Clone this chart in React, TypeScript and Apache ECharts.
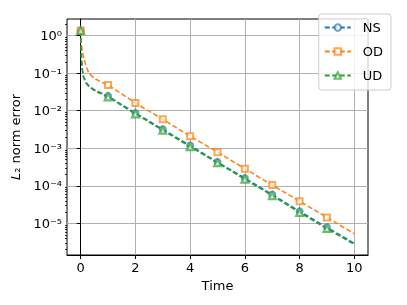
import React, { useEffect, useRef } from 'react';
import * as echarts from 'echarts';

const TIMES = [0, 0.01, 0.03, 0.06, 0.1, 0.2, 0.3, 0.5, 0.75, 1, 1.5, 2, 3, 4, 5, 6, 7, 8, 9, 10];
const NS = [1.35, 0.63, 0.24, 0.126, 0.083, 0.056, 0.046, 0.036, 0.0295, 0.0245, 0.0145, 0.0087, 0.0032, 0.00118, 4.3e-4, 1.6e-4, 5.9e-5, 2.1e-5, 7.9e-6, 2.95e-6];
const OD = [1.35, 0.83, 0.56, 0.38, 0.28, 0.15, 0.1, 0.072, 0.058, 0.048, 0.028, 0.016, 0.0059, 0.0021, 7.9e-4, 2.85e-4, 1.05e-4, 3.9e-5, 1.45e-5, 5.3e-6];
const UD = [1.35, 0.6, 0.225, 0.118, 0.078, 0.053, 0.044, 0.034, 0.028, 0.0233, 0.0137, 0.0082, 0.003, 0.0011, 4.1e-4, 1.5e-4, 5.5e-5, 1.95e-5, 7.3e-6, 2.75e-6];
const MARKER_TIMES = [0, 1, 2, 3, 4, 5, 6, 7, 8, 9];
const X_TICKS = [0, 2, 4, 6, 8, 10];
const Y_TICKS = [1e-5, 1e-4, 1e-3, 1e-2, 1e-1, 1];
const Y_TICK_LABELS = ['10⁻⁵', '10⁻⁴', '10⁻³', '10⁻²', '10⁻¹', '10⁰'];
const SERIES_NAMES = ['NS', 'OD', 'UD'];
const COLORS = ['#1f77b4', '#ff7f0e', '#2ca02c'];
const SYMBOLS = ['emptyCircle', 'emptyRect', 'emptyTriangle'];

const Y_MIN = 1.45e-6;
const Y_MAX = 2.75;

const MINOR_TICKS: number[] = [];
for (let e = -6; e <= 0; e++) {
  for (let m = 2; m <= 9; m++) {
    const v = m * Math.pow(10, e);
    if (v > Y_MIN && v < Y_MAX) MINOR_TICKS.push(v);
  }
}

const FONT = 'DejaVu Sans';

export default function App() {
  const ref = useRef<HTMLDivElement>(null);
  useEffect(() => {
    if (!ref.current) return;
    const chart = echarts.init(ref.current, undefined, { renderer: 'svg' });
    const seriesValues = [NS, OD, UD];
    const series = seriesValues.map((vals, si) => ({
      name: SERIES_NAMES[si],
      type: 'line',
      yAxisIndex: 0,
      symbol: SYMBOLS[si],
      symbolSize: si === 2 ? 7 : 6,
      showSymbol: true,
      showAllSymbol: true,
      data: TIMES.map((t, i) =>
        MARKER_TIMES.includes(t)
          ? { value: [t, vals[i]] }
          : { value: [t, vals[i]], symbol: 'none' }
      ),
      lineStyle: { color: COLORS[si], width: 1.5, type: [5, 2.5] },
      itemStyle: { color: COLORS[si], borderColor: COLORS[si], borderWidth: 1, opacity: 0.7 },
      emphasis: { disabled: true },
      z: 3 + si,
    }));
    chart.setOption({
      animation: false,
      textStyle: { fontFamily: FONT },
      grid: {
        left: 67,
        top: 19,
        width: 301,
        height: 236,
        show: true,
        borderColor: '#000',
        borderWidth: 1,
        backgroundColor: 'transparent',
      },
      legend: {
        data: SERIES_NAMES,
        orient: 'vertical',
        right: 16,
        top: 14,
        itemWidth: 26,
        itemHeight: 8,
        itemGap: 11,
        padding: [7, 8, 8, 5],
        backgroundColor: 'rgba(255,255,255,0.8)',
        borderColor: '#cccccc',
        borderWidth: 1,
        borderRadius: 3,
        textStyle: { fontSize: 13, color: '#000', fontFamily: FONT, padding: [0, 0, 0, 7] },
      },
      xAxis: {
        type: 'value',
        min: -0.5,
        max: 10.5,
        name: 'Time',
        nameLocation: 'middle',
        nameGap: 22,
        nameTextStyle: { fontSize: 13, color: '#000', fontFamily: FONT },
        axisLine: { show: true, lineStyle: { color: '#000', width: 1 } },
        axisTick: { show: true, customValues: X_TICKS, length: 4, lineStyle: { color: '#000' } },
        axisLabel: { customValues: X_TICKS, fontSize: 13, color: '#000', margin: 6, fontFamily: FONT },
        splitLine: { show: true, lineStyle: { color: '#b0b0b0', width: 1 } },
      },
      yAxis: [
        {
          type: 'log',
          logBase: 10,
          min: Y_MIN,
          max: Y_MAX,
          name: '{i|L}₂ norm error',
          nameLocation: 'middle',
          nameGap: 38,
          nameTextStyle: {
            fontSize: 13,
            color: '#000',
            fontFamily: FONT,
            rich: { i: { fontStyle: 'italic', fontSize: 13, fontFamily: FONT, color: '#000' } },
          },
          axisLine: { show: true, lineStyle: { color: '#000', width: 1 } },
          axisTick: { show: true, customValues: Y_TICKS, length: 4, lineStyle: { color: '#000' } },
          axisLabel: {
            customValues: Y_TICKS,
            fontSize: 13,
            color: '#000',
            margin: 5,
            fontFamily: FONT,
            formatter: (v: number) => {
              const idx = Y_TICKS.findIndex((t) => Math.abs(Math.log10(t) - Math.log10(v)) < 1e-6);
              return idx >= 0 ? Y_TICK_LABELS[idx] : '';
            },
          },
          splitLine: { show: true, lineStyle: { color: '#b0b0b0', width: 1 } },
        },
        {
          type: 'log',
          logBase: 10,
          min: Y_MIN,
          max: Y_MAX,
          position: 'left',
          axisLine: { show: false },
          axisTick: { show: true, customValues: MINOR_TICKS, length: 2, lineStyle: { color: '#000', width: 0.8 } },
          axisLabel: { show: false },
          splitLine: { show: false },
        },
      ],
      series,
    });
    return () => chart.dispose();
  }, []);
  return <div ref={ref} style={{ position: 'fixed', left: 0, top: 0, width: 407, height: 305 }} />;
}
